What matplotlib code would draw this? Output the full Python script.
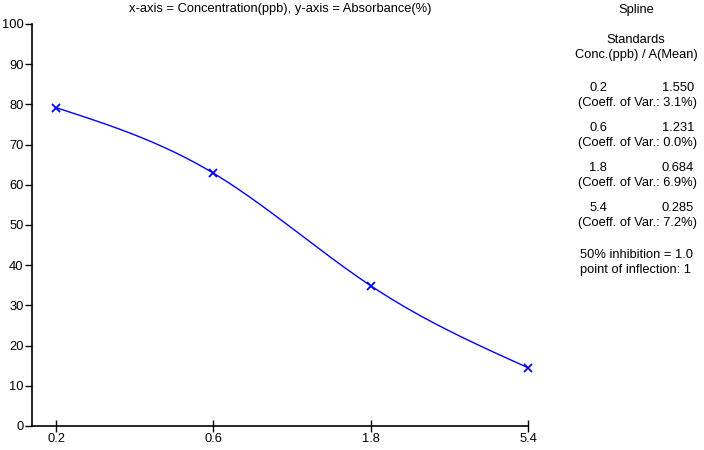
import numpy as np
import matplotlib
matplotlib.use("Agg")
import matplotlib.pyplot as plt

# standards
conc = [0.2, 0.6, 1.8, 5.4]
absorb_pct = [79.2, 62.9, 34.9, 14.5]
a_mean = ["1.550", "1.231", "0.684", "0.285"]
coeff_var = ["3.1%", "0.0%", "6.9%", "7.2%"]
y_ticks = [0, 10, 20, 30, 40, 50, 60, 70, 80, 90, 100]


def natural_spline(xs, ys, xnew):
    # natural cubic spline, plain numpy
    xs = np.asarray(xs, float)
    ys = np.asarray(ys, float)
    n = len(xs)
    h = np.diff(xs)
    A = np.zeros((n, n))
    b = np.zeros(n)
    A[0, 0] = A[-1, -1] = 1
    for i in range(1, n - 1):
        A[i, i - 1] = h[i - 1]
        A[i, i] = 2 * (h[i - 1] + h[i])
        A[i, i + 1] = h[i]
        b[i] = 6 * ((ys[i + 1] - ys[i]) / h[i] - (ys[i] - ys[i - 1]) / h[i - 1])
    M = np.linalg.solve(A, b)
    out = np.empty_like(xnew)
    for k, x in enumerate(xnew):
        i = min(max(np.searchsorted(xs, x) - 1, 0), n - 2)
        t0 = xs[i + 1] - x
        t1 = x - xs[i]
        out[k] = (M[i] * t0 ** 3 + M[i + 1] * t1 ** 3) / (6 * h[i]) \
            + (ys[i] / h[i] - M[i] * h[i] / 6) * t0 \
            + (ys[i + 1] / h[i] - M[i + 1] * h[i] / 6) * t1
    return out


plt.rcParams['font.family'] = ['Liberation Sans', 'DejaVu Sans']
plt.rcParams['font.size'] = 9.3

fig = plt.figure(figsize=(7.04, 4.5), dpi=100)
W, H = 704, 450
left, right, top, bottom = 32, 528, 24, 426
ax = fig.add_axes([left / W, 1 - bottom / H, (right - left) / W, (bottom - top) / H])

lx = np.log(conc)
u = np.linspace(lx[0], lx[-1], 300)
ax.plot(np.exp(u), natural_spline(lx, absorb_pct, u), color='#0000ff', lw=1)
ax.plot(conc, absorb_pct, 'x', color='#0000ff', ms=5.5, mew=1.3, clip_on=False)

ax.set_xscale('log')
ax.set_xlim(conc[0] * 3 ** (-24 / 157.3), conc[-1])
ax.set_ylim(0, 100)
ax.set_xticks(conc)
ax.set_xticklabels([str(c) for c in conc])
ax.minorticks_off()
ax.set_yticks(y_ticks)
ax.tick_params(axis='y', direction='out', length=5, width=1, pad=1)
ax.tick_params(axis='x', direction='inout', length=8, width=1, pad=1)
for s in ['top', 'right']:
    ax.spines[s].set_visible(False)
for s in ['left', 'bottom']:
    ax.spines[s].set_linewidth(1.2)

fig.text(280 / W, 1 - 9 / H, "x-axis = Concentration(ppb), y-axis = Absorbance(%)",
         ha='center', va='center')

# side panel
cx = 636
def ft(x, y, s, ha='center'):
    fig.text(x / W, 1 - y / H, s, ha=ha, va='center')

ft(cx, 10, "Spline")
ft(cx, 40, "Standards")
ft(cx, 55, "Conc.(ppb) / A(Mean)")
for i in range(len(conc)):
    y0 = 88 + 40 * i
    ft(598, y0, str(conc[i]))
    ft(694, y0, a_mean[i], ha='right')
    ft(cx + 2, y0 + 15, "(Coeff. of Var.: %s)" % coeff_var[i])
ft(cx, 255, "50% inhibition = 1.0")
ft(cx, 270, "point of inflection: 1")

fig.savefig("out.png", dpi=100)
